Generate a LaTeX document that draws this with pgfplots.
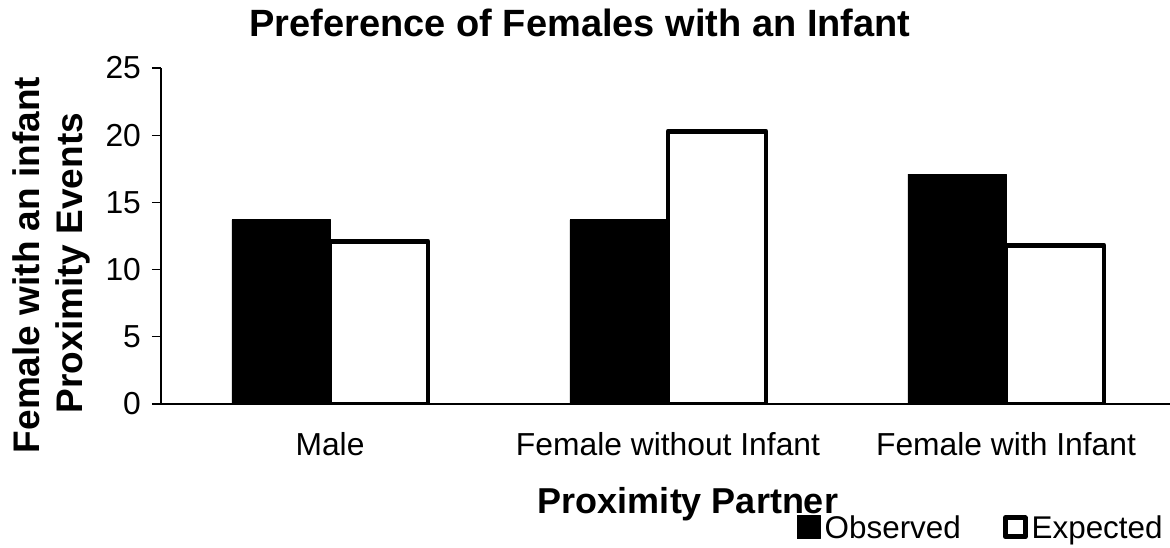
\documentclass[border=0pt]{standalone}
\usepackage{fontspec}
\setmainfont{Liberation Sans}
\usepackage{pgfplots}
\pgfplotsset{compat=1.18}
\begin{document}
\begin{tikzpicture}
\useasboundingbox (0,0) rectangle (585pt,273.5pt);
\begin{axis}[
  at={(80.5pt,71.5pt)}, anchor=south west,
  scale only axis, width=507pt, height=168pt,
  ybar=0pt, bar width=0.29,
  xmin=-0.5, xmax=2.5, ymin=0, ymax=25,
  axis x line=bottom, axis y line=left, axis line style={-},
  x axis line style={line width=1pt},
  y axis line style={line width=0.6pt},
  xtick=data,
  xticklabels={Male, Female without Infant, Female with Infant},
  xtick style={draw=none},
  ytick={0,5,10,15,20,25},
  tick align=outside, major tick length=4.5pt,
  ytick style={line width=0.6pt, black},
  /pgf/number format/assume math mode=true,
  ticklabel style={font=\fontsize{15.9}{18}\selectfont},
  xticklabel style={yshift=-6pt},
  yticklabel style={xshift=-2pt},
  legend style={at={(0.998,-0.435)}, anchor=south east, draw=none, fill=none,
    legend columns=2, font=\fontsize{15.7}{18}\selectfont,
    /tikz/every even column/.append style={column sep=19pt}},
]
\addplot[fill=black, draw=black, line width=0.4pt, line join=round,
  legend image code/.code={\draw[fill=black,draw=black,line join=round] (-1pt,-5pt) rectangle (10.5pt,6.5pt);}]
  coordinates {(0,13.7) (1,13.7) (2,17.1)};
\addlegendentry{Observed}
\addplot[fill=white, draw=black, line width=2.4pt, line join=round,
  legend image code/.code={\draw[fill=white,draw=black,line width=2.4pt,line join=round] (0pt,-4pt) rectangle (10pt,5.5pt);}]
  coordinates {(0,12.1) (1,20.3) (2,11.8)};
\addlegendentry{Expected}
\end{axis}
\node[anchor=base, font=\bfseries\fontsize{19}{22}\selectfont] at (290pt,255pt) {Preference of Females with an Infant};
\node[anchor=base, font=\bfseries\fontsize{18}{21}\selectfont] at (344pt,17pt) {Proximity Partner};
\node[rotate=90, anchor=base, font=\bfseries\fontsize{18.5}{21}\selectfont] at (20pt,141pt) {Female with an infant};
\node[rotate=90, anchor=base, font=\bfseries\fontsize{18.5}{21}\selectfont] at (41pt,142pt) {Proximity Events};
\end{tikzpicture}
\end{document}
